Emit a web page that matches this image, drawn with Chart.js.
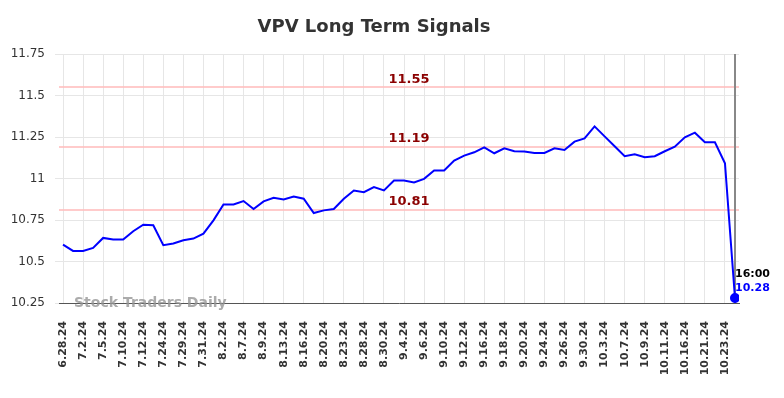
<!DOCTYPE html>
<html>
<head>
<meta charset="utf-8">
<script src="https://cdn.jsdelivr.net/npm/chart.js@4/dist/chart.umd.min.js"></script>
<style>
  html, body { margin: 0; padding: 0; background: #fff; }
  #wrap { width: 784px; height: 398px; }
</style>
</head>
<body>
<div id="wrap"><canvas id="chart" width="784" height="398"></canvas></div>
<script>
'use strict';

//****************************************
//          GLOBAL VARIABLES
// ****************************************

let dates = [
  '6.28.24', '7.1.24', '7.2.24', '7.3.24', '7.5.24', '7.9.24', '7.10.24', '7.11.24',
  '7.12.24', '7.23.24', '7.24.24', '7.26.24', '7.29.24', '7.30.24', '7.31.24', '8.1.24',
  '8.2.24', '8.6.24', '8.7.24', '8.8.24', '8.9.24', '8.12.24', '8.13.24', '8.15.24',
  '8.16.24', '8.19.24', '8.20.24', '8.22.24', '8.23.24', '8.27.24', '8.28.24', '8.29.24',
  '8.30.24', '9.3.24', '9.4.24', '9.5.24', '9.6.24', '9.9.24', '9.10.24', '9.11.24',
  '9.12.24', '9.13.24', '9.16.24', '9.17.24', '9.18.24', '9.19.24', '9.20.24', '9.23.24',
  '9.24.24', '9.25.24', '9.26.24', '9.27.24', '9.30.24', '10.2.24', '10.3.24', '10.4.24',
  '10.7.24', '10.8.24', '10.9.24', '10.10.24', '10.11.24', '10.15.24', '10.16.24', '10.18.24',
  '10.21.24', '10.22.24', '10.23.24', '10.24.24'
];

let prices = [
  10.602, 10.564, 10.564, 10.582, 10.642, 10.632, 10.632, 10.682,
  10.722, 10.718, 10.598, 10.608, 10.628, 10.638, 10.668, 10.748,
  10.844, 10.844, 10.864, 10.816, 10.862, 10.884, 10.874, 10.892,
  10.878, 10.792, 10.808, 10.816, 10.878, 10.928, 10.918, 10.948,
  10.928, 10.988, 10.988, 10.976, 10.998, 11.048, 11.048, 11.108,
  11.138, 11.158, 11.188, 11.152, 11.182, 11.164, 11.162, 11.154,
  11.154, 11.182, 11.172, 11.222, 11.242, 11.314, 11.254, 11.194,
  11.134, 11.146, 11.128, 11.134, 11.164, 11.192, 11.248, 11.276,
  11.218, 11.218, 11.092, 10.28
];

let signalLevels = [11.55, 11.19, 10.81];
let yTicks = [10.25, 10.5, 10.75, 11, 11.25, 11.5, 11.75];

let chartTitle = 'VPV Long Term Signals';
let lastTime = '16:00';
let watermark = 'Stock Traders Daily';

//****************************************
//            HELPER FUNCTIONS
//****************************************

// points as x/y pairs so the x scale can be padded a little
function buildPoints() {
  let pts = [];
  for (let i = 0; i < prices.length; i++) {
    pts.push({ x: i, y: prices[i] });
  }
  return pts;
}

// *********************************************
//              PLUGINS
// *********************************************

let overlayPlugin = {
  id: 'overlay',
  beforeDatasetsDraw(chart) {
    let ctx = chart.ctx;
    let area = chart.chartArea;
    let yScale = chart.scales.y;
    let xScale = chart.scales.x;

    ctx.save();
    // signal lines
    ctx.strokeStyle = 'rgba(255, 190, 190, 0.8)';
    ctx.lineWidth = 2;
    signalLevels.forEach(function (lvl) {
      let y = Math.round(yScale.getPixelForValue(lvl));
      ctx.beginPath();
      ctx.moveTo(area.left, y);
      ctx.lineTo(area.right, y);
      ctx.stroke();
    });

    // vertical marker at last point
    let lastX = xScale.getPixelForValue(prices.length - 1);
    ctx.strokeStyle = '#888888';
    ctx.lineWidth = 2;
    ctx.beginPath();
    ctx.moveTo(lastX, area.top);
    ctx.lineTo(lastX, area.bottom);
    ctx.stroke();

    // watermark
    ctx.fillStyle = 'rgba(150, 150, 150, 0.8)';
    ctx.font = 'bold 14px "DejaVu Sans"';
    ctx.textAlign = 'left';
    ctx.textBaseline = 'middle';
    ctx.fillText(watermark, 74, area.bottom);
    ctx.restore();
  },
  afterDatasetsDraw(chart) {
    let ctx = chart.ctx;
    let yScale = chart.scales.y;
    let xScale = chart.scales.x;
    let midX = (chart.chartArea.left + chart.chartArea.right) / 2 + 10;

    ctx.save();
    // signal labels
    ctx.fillStyle = '#8b0000';
    ctx.font = 'bold 13px "DejaVu Sans"';
    ctx.textAlign = 'center';
    ctx.textBaseline = 'middle';
    signalLevels.forEach(function (lvl) {
      let y = yScale.getPixelForValue(lvl);
      ctx.fillText(lvl.toFixed(2), midX, y - 8);
    });

    // last value labels
    let last = prices.length - 1;
    let lx = xScale.getPixelForValue(last);
    let ly = yScale.getPixelForValue(prices[last]);
    ctx.textAlign = 'left';
    ctx.font = 'bold 11px "DejaVu Sans"';
    ctx.fillStyle = '#000000';
    ctx.fillText(lastTime, lx, ly - 24);
    ctx.fillStyle = '#0000ff';
    ctx.fillText(prices[last].toFixed(2), lx, ly - 10);

    // title
    ctx.fillStyle = '#333333';
    ctx.font = 'bold 18px "DejaVu Sans"';
    ctx.textAlign = 'center';
    ctx.fillText(chartTitle, 374, 27);
    ctx.restore();
  }
};

// *********************************************
//              CHART RENDERING
// *********************************************

function renderChart() {
  let ctx = document.getElementById('chart').getContext('2d');
  let lastIdx = prices.length - 1;

  new Chart(ctx, {
    type: 'line',
    data: {
      datasets: [{
        data: buildPoints(),
        borderColor: '#0000ff',
        backgroundColor: '#0000ff',
        borderWidth: 2,
        tension: 0,
        pointRadius: function (c) { return c.dataIndex === lastIdx ? 4 : 0; },
        pointHoverRadius: 0
      }]
    },
    options: {
      responsive: false,
      animation: false,
      events: [],
      layout: { padding: { left: 0, right: 45, top: 54, bottom: 0 } },
      plugins: {
        legend: { display: false },
        tooltip: { enabled: false },
        title: { display: false }
      },
      scales: {
        x: {
          type: 'linear',
          min: -0.4,
          max: lastIdx + 0.4,
          afterFit: function (scale) { scale.height = 95; },
          grid: { color: '#e6e6e6', drawTicks: false },
          border: { color: '#555555', width: 1 },
          ticks: {
            stepSize: 2,
            includeBounds: false,
            autoSkip: false,
            minRotation: 90,
            maxRotation: 90,
            padding: 18,
            color: '#333333',
            font: { family: 'DejaVu Sans', size: 11, weight: 'bold' },
            callback: function (v) {
              return Number.isInteger(v) && v % 2 === 0 ? dates[v] : '';
            }
          }
        },
        y: {
          min: 10.25,
          max: 11.75,
          afterFit: function (scale) { scale.width = 59; },
          afterBuildTicks: function (scale) {
            scale.ticks = yTicks.map(function (v) { return { value: v }; });
          },
          grid: { color: '#e6e6e6', drawTicks: true, tickLength: 4 },
          border: { display: false },
          ticks: {
            padding: 10,
            color: '#333333',
            font: { family: 'DejaVu Sans', size: 12 },
            callback: function (v) { return String(+v.toFixed(2)); }
          }
        }
      }
    },
    plugins: [overlayPlugin]
  });
}

renderChart();
</script>
</body>
</html>
